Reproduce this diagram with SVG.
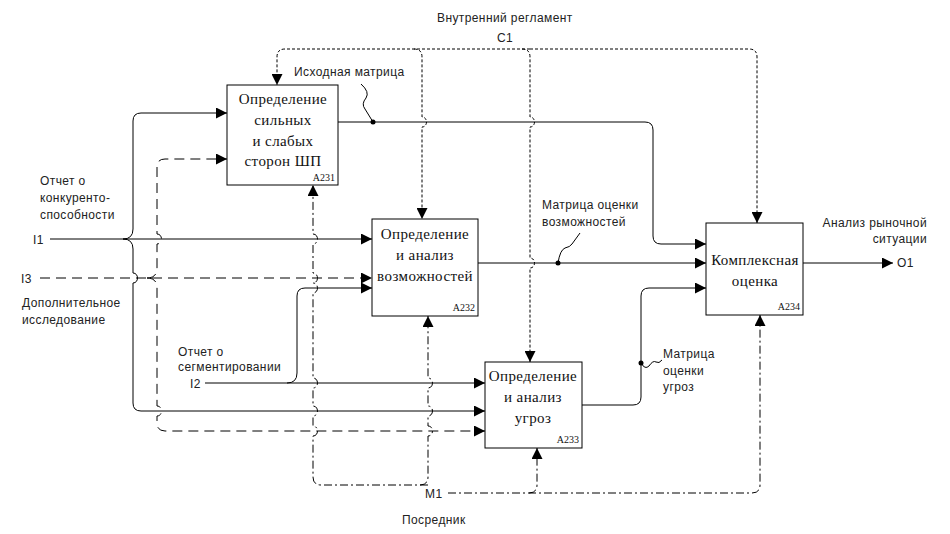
<svg xmlns="http://www.w3.org/2000/svg" width="950" height="534" viewBox="0 0 950 534">
<style>
.box{fill:#fff;stroke:#000;stroke-width:1}
.bt{font-family:"Liberation Serif",serif;font-size:15px;letter-spacing:0.4px;fill:#111;text-anchor:middle}
.num{font-family:"Liberation Serif",serif;font-size:10px;fill:#111;text-anchor:end}
.lb{font-family:"Liberation Sans",Arial,sans-serif;font-size:12px;letter-spacing:0.4px;fill:#222}
.r{text-anchor:end}
.ln{fill:none;stroke:#000;stroke-width:1}
.s{marker-end:none}
.d{stroke-dasharray:10 6}
.c{stroke-dasharray:3 2}
.m{stroke-dasharray:8 3 2 3}
.a{marker-end:url(#ah)}
.dot{fill:#000}
</style>
<defs>
<marker id="ah" markerUnits="userSpaceOnUse" markerWidth="11" markerHeight="11" refX="10" refY="5" orient="auto" viewBox="0 0 10 10">
<path d="M0,0 L10,5 L0,10 z" fill="#000"/>
</marker>
</defs>
<rect width="950" height="534" fill="#fff"/>
<g id="connectors">
<!-- inputs solid -->
<path class="ln a" d="M50,239 H372"/>
<path class="ln a" d="M123,239 Q133,239 133,229 V121 Q133,113 141,113 H227"/>
<path class="ln a" d="M123,239 Q133,239 133,249 V273 C139,273 139,283 133,283 V403 Q133,411 141,411 H485"/>
<path class="ln a" d="M205,383 H485"/>
<path class="ln a" d="M287,383 Q297,383 297,373 V296 Q297,288 305,288 H372"/>
<!-- outputs -->
<path class="ln a" d="M338,122 H645 Q653,122 653,130 V236 Q653,244 661,244 H706"/>
<path class="ln a" d="M478,263 H706"/>
<path class="ln a" d="M582,405 H633 Q641,405 641,397 V296 Q641,288 649,288 H706"/>
<path class="ln a" d="M803,263 H893"/>
<!-- I3 dashed -->
<path class="ln d a" d="M40,278 H372"/>
<path class="ln d a" d="M147,278 Q157,278 157,268 V244 C163,244 163,234 157,234 V167 Q157,159 165,159 H227"/>
<path class="ln d a" d="M147,278 Q157,278 157,288 V406 C163,406 163,416 157,416 V423 Q157,431 165,431 H485"/>
<!-- C1 controls -->
<path class="ln c a" d="M530,49 H285 Q277,49 277,57 V85"/>
<path class="ln c a" d="M530,49 H749 Q757,49 757,57 V223"/>
<path class="ln c a" d="M414,49 Q422,49 422,57 V117 C428,117 428,127 422,127 V219"/>
<path class="ln c a" d="M522,49 Q530,49 530,57 V117 C536,117 536,127 530,127 V258 C536,258 536,268 530,268 V362"/>
<!-- M1 mechanisms -->
<path class="ln m a" d="M448,493 H752 Q760,493 760,485 V315"/>
<path class="ln m a" d="M529,493 Q537,493 537,485 V448"/>
<path class="ln m a" d="M428,485 H321 Q313,485 313,477 V436 C319,436 319,426 313,426 V416 C319,416 319,406 313,406 V388 C319,388 319,378 313,378 V293 C319,293 319,283 313,283 C319,283 319,273 313,273 V244 C319,244 319,234 313,234 V185"/>
<path class="ln m a" d="M420,485 Q428,485 428,477 V436 C434,436 434,426 428,426 V416 C434,416 434,406 428,406 V388 C434,388 434,378 428,378 V316"/>
<!-- label squiggles and dots -->
<path class="ln" d="M361,84 Q370,92 366,98 Q361,104 365,109 L373,122"/>
<path class="ln" d="M558,263 Q560,250 565,248 Q570,247 572,244 L580,233"/>
<path class="ln" d="M641,363 Q645,370 649,366 Q653,360 656,362 Q659,364 662,360"/>
<circle class="dot" cx="373" cy="122" r="2.5"/>
<circle class="dot" cx="558" cy="263" r="2.5"/>
<circle class="dot" cx="641" cy="363" r="2.5"/>
</g>
<g id="A231">
<rect class="box" x="227" y="85" width="111" height="100"/>
<text class="bt" x="283" y="104">Определение</text>
<text class="bt" x="283" y="125">сильных</text>
<text class="bt" x="283" y="146">и слабых</text>
<text class="bt" x="283" y="166">сторон ШП</text>
<text class="num" x="335" y="181">A231</text>
</g>
<g id="A232">
<rect class="box" x="372" y="219" width="106" height="97"/>
<text class="bt" x="425" y="239">Определение</text>
<text class="bt" x="425" y="260">и анализ</text>
<text class="bt" x="425" y="281">возможностей</text>
<text class="num" x="475" y="311">A232</text>
</g>
<g id="A233">
<rect class="box" x="485" y="362" width="97" height="86"/>
<text class="bt" x="533" y="381">Определение</text>
<text class="bt" x="533" y="402">и анализ</text>
<text class="bt" x="533" y="423">угроз</text>
<text class="num" x="579" y="443">A233</text>
</g>
<g id="A234">
<rect class="box" x="706" y="223" width="97" height="92"/>
<text class="bt" x="755" y="265">Комплексная</text>
<text class="bt" x="755" y="286">оценка</text>
<text class="num" x="800" y="310">A234</text>
</g>
<g id="labels">
<text class="lb" x="437" y="22">Внутренний регламент</text>
<text class="lb" x="497" y="42">C1</text>
<text class="lb" x="294" y="76">Исходная матрица</text>
<text class="lb" x="40" y="185">Отчет о</text>
<text class="lb" x="40" y="202">конкуренто-</text>
<text class="lb" x="40" y="219">способности</text>
<text class="lb" x="33" y="244">I1</text>
<text class="lb" x="21" y="283">I3</text>
<text class="lb" x="22" y="307">Дополнительное</text>
<text class="lb" x="22" y="324">исследование</text>
<text class="lb" x="178" y="356">Отчет о</text>
<text class="lb" x="178" y="371">сегментировании</text>
<text class="lb" x="190" y="388">I2</text>
<text class="lb" x="542" y="209">Матрица оценки</text>
<text class="lb" x="542" y="226">возможностей</text>
<text class="lb" x="663" y="358">Матрица</text>
<text class="lb" x="663" y="375">оценки</text>
<text class="lb" x="663" y="391">угроз</text>
<text class="lb r" x="927" y="227">Анализ рыночной</text>
<text class="lb r" x="927" y="243">ситуации</text>
<text class="lb" x="897" y="267">O1</text>
<text class="lb" x="425" y="498">M1</text>
<text class="lb" x="402" y="524">Посредник</text>
</g>
</svg>
